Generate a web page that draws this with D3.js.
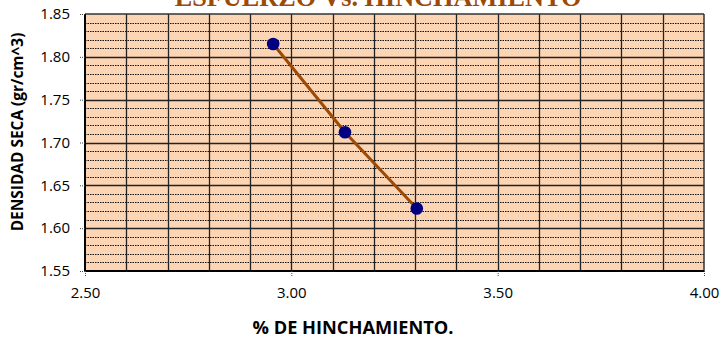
<!DOCTYPE html>
<html><head><meta charset="utf-8">
<script src="https://cdn.jsdelivr.net/npm/d3@7"></script>
<style>body{margin:0;background:#fff;} svg{display:block;}</style>
</head><body>
<svg id="c" width="720" height="341"></svg>
<script>
const hinchamiento = [2.956, 3.130, 3.304];
const densidad = [1.815, 1.712, 1.623];
const xTicks = [2.50, 3.00, 3.50, 4.00];
const yTicks = [1.55, 1.60, 1.65, 1.70, 1.75, 1.80, 1.85];
const title = "ESFUERZO Vs. HINCHAMIENTO";
const xTitle = "% DE HINCHAMIENTO.";
const yTitle = "DENSIDAD SECA (gr/cm^3)";

const svg = d3.select("#c");
const L = 85, R = 704, T = 14, B = 271;
const x = d3.scaleLinear().domain([2.5, 4.0]).range([L, R]);
const y = d3.scaleLinear().domain([1.55, 1.85]).range([B, T]);
const font = "'Open Sans', sans-serif";

function fit(sel, base, target) {
  sel.attr("font-size", base);
  const w = sel.node().getComputedTextLength();
  sel.attr("font-size", base * target / w);
}

svg.append("rect").attr("x", L).attr("y", T).attr("width", R - L).attr("height", B - T).attr("fill", "#FCD5B4");

// minor horizontal gridlines every 0.01
const minorY = d3.range(156, 185).map(v => v / 100).filter(v => Math.round(v * 100) % 5 !== 0);
svg.append("g").selectAll("line").data(minorY).join("line")
  .attr("x1", L).attr("x2", R)
  .attr("y1", d => Math.round(y(d)) + 0.5).attr("y2", d => Math.round(y(d)) + 0.5)
  .attr("stroke", "#111").attr("stroke-width", 1).attr("stroke-dasharray", "1.5,1");
// major horizontal
svg.append("g").selectAll("line").data(yTicks.slice(1, -1)).join("line")
  .attr("x1", L).attr("x2", R)
  .attr("y1", d => Math.round(y(d)) + 0.5).attr("y2", d => Math.round(y(d)) + 0.5)
  .attr("stroke", "#222").attr("stroke-width", 1.3);
// vertical gridlines every 0.1
const vx = d3.range(26, 40).map(v => v / 10);
svg.append("g").selectAll("line").data(vx).join("line")
  .attr("y1", T).attr("y2", B)
  .attr("x1", d => Math.round(x(d)) + 0.5).attr("x2", d => Math.round(x(d)) + 0.5)
  .attr("stroke", "#222").attr("stroke-width", 1.3);

// border
svg.append("line").attr("x1", L).attr("x2", R).attr("y1", T).attr("y2", T).attr("stroke", "#333").attr("stroke-width", 1.5);
svg.append("line").attr("x1", R).attr("x2", R).attr("y1", T).attr("y2", B).attr("stroke", "#333").attr("stroke-width", 1.5);
svg.append("line").attr("x1", L).attr("x2", R).attr("y1", B).attr("y2", B).attr("stroke", "#000").attr("stroke-width", 2);
svg.append("line").attr("x1", L).attr("x2", L).attr("y1", T).attr("y2", B).attr("stroke", "#000").attr("stroke-width", 2);

// axes
const yAxis = d3.axisLeft(y).tickValues(yTicks).tickFormat(d3.format(".2f")).tickSize(6).tickPadding(9);
const gy = svg.append("g").attr("transform", `translate(${L},0)`).call(yAxis);
gy.select(".domain").remove();
gy.selectAll(".tick line").attr("stroke", "#444").attr("stroke-dasharray", "1,1");
gy.selectAll("text").attr("font-family", font).attr("font-size", 15).attr("fill", "#000");

const xAxis = d3.axisBottom(x).tickValues(xTicks).tickFormat(d3.format(".2f")).tickSize(6).tickPadding(10);
const gx = svg.append("g").attr("transform", `translate(0,${B})`).call(xAxis);
gx.select(".domain").remove();
gx.selectAll(".tick line").attr("stroke", "#444").attr("stroke-dasharray", "1,1");
gx.selectAll("text").attr("font-family", font).attr("font-size", 15).attr("fill", "#000");

// series
const pts = hinchamiento.map((h, i) => [h, densidad[i]]);
svg.append("path").datum(pts)
  .attr("d", d3.line().x(d => x(d[0])).y(d => y(d[1])))
  .attr("fill", "none").attr("stroke", "#9C4A06").attr("stroke-width", 3);
svg.append("g").selectAll("circle").data(pts).join("circle")
  .attr("cx", d => x(d[0])).attr("cy", d => y(d[1])).attr("r", 6.3)
  .attr("fill", "#000080");

// titles
const t = svg.append("text").attr("x", 378).attr("y", 6).attr("text-anchor", "middle")
  .attr("font-family", "'Liberation Serif', 'Times New Roman', serif").attr("font-weight", "bold")
  .attr("fill", "#9C4A06").text(title);
fit(t, 20, 407);

const xt = svg.append("text").attr("x", 353).attr("y", 334).attr("text-anchor", "middle")
  .attr("font-family", font).attr("font-weight", "bold").attr("fill", "#000").text(xTitle);
fit(xt, 15, 201);
const yt = svg.append("text").attr("transform", "translate(23,132) rotate(-90)").attr("text-anchor", "middle")
  .attr("font-family", font).attr("font-weight", "bold").attr("fill", "#000").text(yTitle);
fit(yt, 14, 199);
</script>
</body></html>
